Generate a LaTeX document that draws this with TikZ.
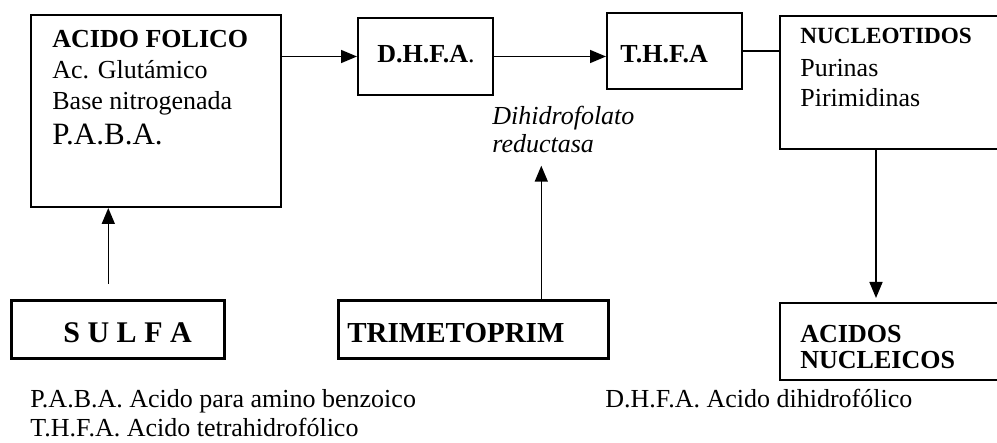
\documentclass[tikz,border=0pt]{standalone}
\usepackage{fontspec}
\setmainfont{Liberation Serif}
\usetikzlibrary{arrows.meta,positioning}
\tikzset{
  box/.style={draw=black,line width=1pt,anchor=north west,inner sep=0pt},
  drugbox/.style={box,line width=1.3pt},
  txt/.style={anchor=base west,inner sep=0pt,align=left,
    font=\fontsize{13pt}{15pt}\selectfont},
  arrow/.style={-{Triangle[length=8pt,width=6.5pt]},line width=0.8pt},
  link/.style={line width=0.8pt}
}

\begin{document}
\begin{tikzpicture}
  \useasboundingbox (0,0) rectangle (498.5pt,-221.5pt);
  % boxes
  \node[box,minimum width=125pt,minimum height=96pt] (folico) at (15pt,-7pt) {};
  \node[box,minimum width=67.5pt,minimum height=38.5pt] (dhfa) at (178.5pt,-8.5pt) {};
  \node[box,minimum width=67.5pt,minimum height=38pt] (thfa) at (303pt,-6pt) {};
  \node[box,minimum width=111pt,minimum height=66.5pt] (nucleo) at (389.5pt,-7.5pt) {};
  \node[box,minimum width=111pt,minimum height=38.5pt] (acidos) at (389.5pt,-151pt) {};
  \node[drugbox,minimum width=106.5pt,minimum height=29pt] (sulfa) at (5pt,-149.5pt) {};
  \node[drugbox,minimum width=135pt,minimum height=29pt] (trimeto) at (168.5pt,-149.5pt) {};
  % texts (base = last line)
  \node[txt,font=\fontsize{13pt}{15.5pt}\selectfont] (folicotxt) at (26pt,-72.5pt)
    {\textbf{ACIDO FOLICO}\\ Ac. Glutámico\\ Base nitrogenada\\[2pt]
     {\fontsize{15.5pt}{15.5pt}\selectfont P.A.B.A.}};
  \node[txt] (dhfatxt) at (188.5pt,-31.5pt) {\textbf{D.H.F.A}.};
  \node[txt] (thfatxt) at (310pt,-31.5pt) {\textbf{T.H.F.A}};
  \node[txt] (nucleotxt) at (400pt,-53.5pt)
    {{\fontsize{11.6pt}{15pt}\selectfont\bfseries NUCLEOTIDOS}\\[1.5pt] Purinas\\ Pirimidinas};
  \node[txt,font=\fontsize{13pt}{13pt}\selectfont\bfseries] (acidostxt) at (400pt,-184.5pt)
    {ACIDOS\\ NUCLEICOS};
  \node[txt,font=\fontsize{15pt}{15pt}\selectfont\bfseries] (sulfatxt) at (31.5pt,-171.5pt) {S U L F A};
  \node[txt,font=\fontsize{14.5pt}{15pt}\selectfont\bfseries] (trimetotxt) at (173.5pt,-171.5pt) {TRIMETOPRIM};
  \node[txt,font=\fontsize{13pt}{14pt}\selectfont\itshape] (reductasa) at (246pt,-76.5pt)
    {Dihidrofolato\\ reductasa};
  \node[txt,font=\fontsize{13pt}{14.5pt}\selectfont] (notas) at (15pt,-218.5pt)
    {P.A.B.A. Acido para amino benzoico\\ T.H.F.A. Acido tetrahidrofólico};
  \node[txt] (notadhfa) at (302.5pt,-204pt) {D.H.F.A. Acido dihidrofólico};
  % connectors
  \draw[arrow] (folico.east |- dhfa.west) -- (dhfa.west);
  \draw[arrow] (dhfa.east) -- (dhfa.east -| thfa.west);
  \draw[link] (thfa.east) -- (thfa.east -| nucleo.west);
  \draw[arrow,shorten >=2pt] ([xshift=-7.5pt]nucleo.south) -- ([xshift=-7.5pt]nucleo.south |- acidos.north);
  \draw[arrow,shorten <=7.5pt] ([xshift=-4.75pt]sulfa.north) -- ([xshift=-4.75pt]sulfa.north |- folico.south);
  \draw[arrow,shorten >=6pt] ([xshift=34pt]trimeto.north) -- ([xshift=34pt]trimeto.north |- reductasa.south);
\end{tikzpicture}
\end{document}
